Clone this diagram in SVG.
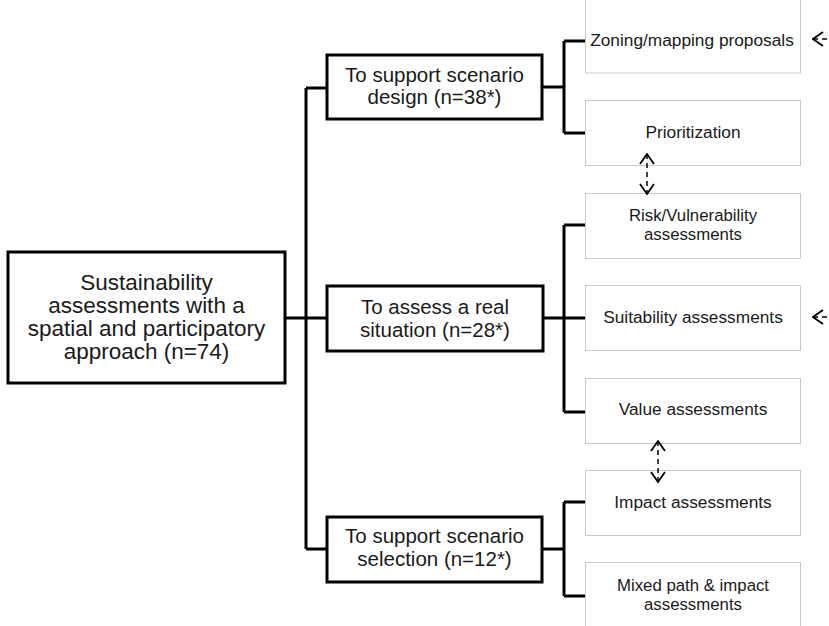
<svg xmlns="http://www.w3.org/2000/svg" width="829" height="626" viewBox="0 0 829 626">
<defs>
<marker id="chev" viewBox="0 0 12 16" refX="11" refY="8" markerWidth="12" markerHeight="16" markerUnits="userSpaceOnUse" orient="auto-start-reverse">
<path d="M1,1 L11,8 L1,15" fill="none" stroke="#000" stroke-width="1.8"/>
</marker>
</defs>
<style>
.main{fill:#fff;stroke:#000;stroke-width:3}
.leaf{fill:#fff;stroke:#c8c8c8;stroke-width:1}
.t{font-family:"Liberation Sans",Arial,sans-serif;fill:#1a1a1a;text-anchor:middle}
.t1{font-size:22.5px}
.t2{font-size:20.5px}
.t3{font-size:17.3px}
.t4{font-size:16.8px}
.conn{fill:none;stroke:#000;stroke-width:3}
.dash{fill:none;stroke:#000;stroke-width:1.5;stroke-dasharray:5 4}
</style>
<rect width="829" height="626" fill="#fff"/>
<g id="root">
<rect class="main" x="8" y="252" width="277" height="131"/>
<text class="t t1" x="146.5" y="290">Sustainability</text>
<text class="t t1" x="146.5" y="313">assessments with a</text>
<text class="t t1" x="146.5" y="336">spatial and participatory</text>
<text class="t t1" x="146.5" y="359">approach (n=74)</text>
</g>
<g id="design">
<rect class="main" x="327" y="55" width="215" height="64"/>
<text class="t t2" x="434.5" y="82">To support scenario</text>
<text class="t t2" x="434.5" y="104">design (n=38*)</text>
</g>
<g id="real">
<rect class="main" x="327" y="286" width="216" height="65"/>
<text class="t t2" x="435" y="314">To assess a real</text>
<text class="t t2" x="435" y="337">situation (n=28*)</text>
</g>
<g id="selection">
<rect class="main" x="327" y="517" width="215" height="65"/>
<text class="t t2" x="434.5" y="543">To support scenario</text>
<text class="t t2" x="434.5" y="566">selection (n=12*)</text>
</g>
<g id="zoning">
<rect class="leaf" x="585.5" y="-2" width="215" height="75"/>
<text class="t t3" x="692" y="46">Zoning/mapping proposals</text>
</g>
<g id="prioritization">
<rect class="leaf" x="585.5" y="100.5" width="215" height="65"/>
<text class="t t3" x="693" y="138">Prioritization</text>
</g>
<g id="risk">
<rect class="leaf" x="585.5" y="193.5" width="215" height="65"/>
<text class="t t4" x="693" y="221">Risk/Vulnerability</text>
<text class="t t4" x="693" y="240">assessments</text>
</g>
<g id="suitability">
<rect class="leaf" x="585.5" y="285.5" width="215" height="65"/>
<text class="t t3" x="693" y="323">Suitability assessments</text>
</g>
<g id="value">
<rect class="leaf" x="585.5" y="378.5" width="215" height="65"/>
<text class="t t3" x="693" y="415">Value assessments</text>
</g>
<g id="impact">
<rect class="leaf" x="585.5" y="470.5" width="215" height="65"/>
<text class="t t3" x="693" y="508">Impact assessments</text>
</g>
<g id="mixed">
<rect class="leaf" x="585.5" y="562.5" width="215" height="70"/>
<text class="t t4" x="693" y="591">Mixed path &amp; impact</text>
<text class="t t4" x="693" y="610">assessments</text>
</g>
<g id="connectors">
<path class="conn" d="M285,318 H306 M306,88 V549 M306,88 H327 M306,318 H327 M306,549 H327"/>
<path class="conn" d="M542,87 H564 M564,41 V133 M564,41 H585 M564,133 H585"/>
<path class="conn" d="M543,318 H564 M564,225 V412 M564,225 H585 M564,318 H585 M564,412 H585"/>
<path class="conn" d="M542,549 H564 M564,502 V596 M564,502 H585 M564,596 H585"/>
<path class="dash" d="M647,154 V194" marker-start="url(#chev)" marker-end="url(#chev)"/>
<path class="dash" d="M658,441 V482" marker-start="url(#chev)" marker-end="url(#chev)"/>
<path class="dash" d="M813,39 H830" marker-start="url(#chev)"/>
<path class="dash" d="M813,317 H830" marker-start="url(#chev)"/>
</g>
</svg>
